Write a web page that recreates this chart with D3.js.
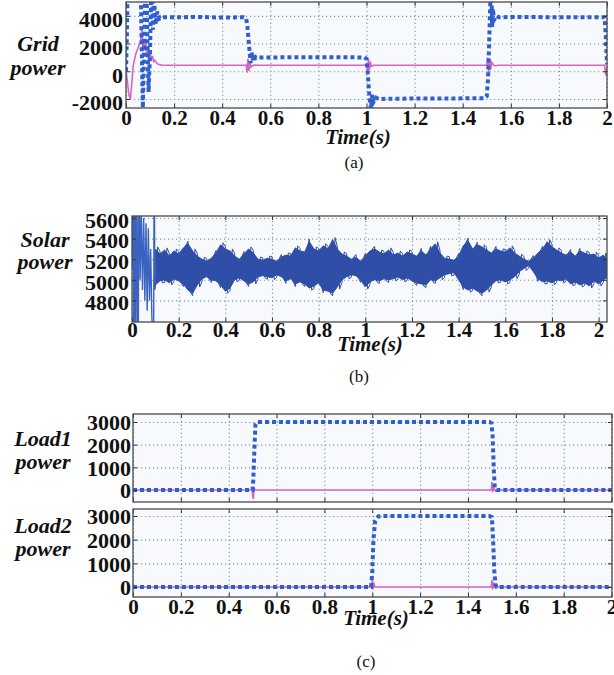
<!DOCTYPE html>
<html><head><meta charset="utf-8">
<script src="https://cdn.jsdelivr.net/npm/d3@7"></script>
<style>
html,body{margin:0;padding:0;background:#fff;}
svg{display:block;}
svg text{font-family:"Liberation Serif","Times New Roman",Times,serif !important;}
</style></head>
<body>
<svg id="chart" width="614" height="675"></svg>
<script>
// ---------- DATA ----------
const timeTicks = [0,0.2,0.4,0.6,0.8,1,1.2,1.4,1.6,1.8,2];
const timeTickLabels = ["0","0.2","0.4","0.6","0.8","1","1.2","1.4","1.6","1.8","2"];
const gridTicks = [-2000,0,2000,4000];
const solarTicks = [4800,5000,5200,5400,5600];
const loadTicks = [0,1000,2000,3000];

// Grid power: blue dotted series (time, W)
const gridBlueT = [0,0.003,0.006,0.009,0.03,0.06,0.064,0.07,0.074,0.079,0.084,0.088,0.094,0.1,0.104,0.108,0.112,0.118,0.124,0.13,0.14,0.15,0.2,0.3,0.4,0.49,0.5,0.505,0.512,0.518,0.522,0.527,0.532,0.54,0.55,0.6,0.8,0.99,1.0,1.006,1.012,1.018,1.024,1.03,1.04,1.05,1.1,1.3,1.49,1.5,1.505,1.51,1.515,1.518,1.522,1.526,1.53,1.54,1.55,1.6,1.8,1.99,1.995,2.0];
const gridBlueV = [0,2000,5000,8000,8000,8000,3000,-2650,500,5000,8000,3000,-1500,1500,5000,8000,3000,4800,3400,4300,3800,3900,3900,3920,3880,3900,3800,3200,1800,600,1400,800,1200,950,1000,1000,1020,1000,900,-300,-1800,-2700,-1700,-2200,-1900,-2000,-1980,-1960,-1950,-1800,-600,2000,5100,8000,3200,4500,3700,4000,3900,3920,3900,3900,2500,500];

// Grid power: pink series
const gridPinkT = [0,0.005,0.012,0.018,0.024,0.03,0.04,0.05,0.06,0.066,0.07,0.074,0.078,0.082,0.086,0.09,0.095,0.1,0.105,0.11,0.115,0.12,0.13,0.14,0.15,0.2,0.5,0.503,0.507,0.511,0.515,0.52,0.53,0.55,1.0,1.004,1.008,1.012,1.016,1.02,1.03,1.5,1.504,1.508,1.512,1.516,1.52,1.53,1.55,1.99,1.995,2.0];
const gridPinkV = [0,-600,-1700,-2000,-900,400,1200,1700,2100,3000,1600,2300,1500,2200,1100,1700,900,1400,800,1100,700,800,550,480,440,430,430,-100,900,0,700,300,450,430,430,-100,900,100,700,350,430,430,1000,-200,900,100,650,400,430,430,-300,200];

// Solar power: start-up transient and noise envelope (time, W)
const solarStartT = [0,0.004,0.008,0.012,0.016,0.02,0.026,0.03,0.035,0.04,0.045,0.05,0.055,0.06,0.065,0.07,0.075,0.08,0.085,0.088,0.092,0.095,0.098,0.1];
const solarStartV = [5100,6500,3800,6500,3800,6500,3800,6300,5000,5650,4900,5600,4800,5550,4700,5500,4800,5300,4650,4500,3800,6300,4900,5200];
const solarEnvT = [0.10,0.12,0.14,0.16,0.18,0.20,0.22,0.24,0.26,0.28,0.30,0.32,0.34,0.36,0.38,0.40,0.42,0.44,0.46,0.48,0.50,0.52,0.54,0.56,0.58,0.60,0.62,0.64,0.66,0.68,0.70,0.72,0.74,0.76,0.78,0.80,0.82,0.84,0.86,0.88,0.90,0.92,0.94,0.96,0.98,1.00,1.02,1.04,1.06,1.08,1.10,1.12,1.14,1.16,1.18,1.20,1.22,1.24,1.26,1.28,1.30,1.32,1.34,1.36,1.38,1.40,1.42,1.44,1.46,1.48,1.50,1.52,1.54,1.56,1.58,1.60,1.62,1.64,1.66,1.68,1.70,1.72,1.74,1.76,1.78,1.80,1.82,1.84,1.86,1.88,1.90,1.92,1.94,1.96,1.98,2.00,2.02,2.036];
const solarUpper = [5300,5250,5290,5230,5280,5250,5310,5350,5280,5230,5200,5180,5210,5260,5340,5300,5280,5230,5200,5250,5300,5260,5200,5190,5210,5200,5180,5220,5240,5230,5310,5280,5270,5370,5300,5280,5330,5300,5390,5300,5250,5230,5200,5220,5180,5230,5280,5300,5270,5250,5290,5240,5260,5230,5270,5250,5230,5280,5240,5300,5350,5260,5210,5200,5190,5230,5330,5380,5300,5340,5320,5290,5260,5300,5280,5270,5310,5260,5230,5200,5180,5210,5260,5300,5370,5320,5290,5260,5240,5270,5230,5280,5260,5240,5250,5210,5240,5200];
const solarLower = [4950,4990,5000,4970,5010,4990,4960,4900,4870,4950,5010,5030,5000,4990,4950,4890,4920,5000,5020,4990,4960,4980,5030,5040,5030,5020,5050,5030,4990,5010,4960,4980,4960,4920,4940,4970,4900,4890,4870,4930,5000,5030,5050,5040,5000,4930,4980,5000,4990,5010,5000,5010,5030,5000,5020,4990,4970,4960,4950,5000,4990,5020,5050,5060,5070,5000,4930,4900,4920,4890,4870,4900,4950,4990,5000,4980,5000,5030,5080,5110,5140,5080,5010,4980,4990,4970,5000,4990,5010,4960,4980,4950,4970,4940,4990,4960,5000,5020];

// Load powers: blue dotted and pink series
const load1BlueT = [0,0.5,0.503,0.508,0.512,0.52,1.49,1.498,1.503,1.508,1.512,1.52,2.0];
const load1BlueV = [0,0,500,2000,2900,3000,3000,2950,2400,900,100,0,0];
const load1PinkT = [0,0.498,0.5,0.503,0.506,0.51,1.498,1.5,1.503,1.506,1.51,2.0];
const load1PinkV = [0,0,-250,-400,100,0,0,350,-100,200,0,0];
const load2BlueT = [0,0.995,1.0,1.005,1.012,1.025,1.04,1.49,1.5,1.505,1.51,1.515,1.52,2.0];
const load2BlueV = [0,0,600,2000,2800,2980,3000,3000,2950,2000,700,100,0,0];
const load2PinkT = [0,0.998,1.0,1.003,1.006,1.01,1.498,1.5,1.503,1.506,1.51,2.0];
const load2PinkV = [0,0,300,-100,200,0,0,300,-100,200,0,0];

// ---------- DRAW ----------
const svg = d3.select("#chart");
const FONT = "Liberation Serif";
const BLUE = "#2f5fcf", PINK = "#d765c2", SOLAR = "#2f4ea8";

function zip(t, v){ return t.map((d,i)=>[d, v[i]]); }

function label(sel, x, y, s, opts){
  opts = opts || {};
  return sel.append("text").attr("x",x).attr("y",y).attr("text-anchor","middle")
    .attr("font-family",FONT).attr("font-weight",opts.bold===false?"normal":"bold")
    .attr("font-style",opts.italic?"italic":"normal").attr("font-size",opts.size||21)
    .attr("fill","#111").text(s);
}

function panel(cfg){
  const x = d3.scaleLinear().domain(cfg.xDom).range([cfg.left, cfg.right]);
  const y = d3.scaleLinear().domain(cfg.yDom).range([cfg.bottom, cfg.top]);
  const w = cfg.right - cfg.left, h = cfg.bottom - cfg.top;
  const g = svg.append("g");
  g.append("rect").attr("x",cfg.left).attr("y",cfg.top).attr("width",w).attr("height",h).attr("fill","#f8f9fd");
  const clipId = "clip"+cfg.id;
  svg.append("clipPath").attr("id",clipId).append("rect").attr("x",cfg.left).attr("y",cfg.top).attr("width",w).attr("height",h);

  const gx = g.append("g").attr("transform",`translate(0,${cfg.bottom})`)
    .call(d3.axisBottom(x).tickValues(timeTicks).tickSize(-h).tickFormat(""));
  const gy = g.append("g").attr("transform",`translate(${cfg.left},0)`)
    .call(d3.axisLeft(y).tickValues(cfg.yTicks).tickSize(-w).tickFormat(""));
  [gx,gy].forEach(a=>{
    a.select(".domain").remove();
    a.selectAll("line").attr("stroke","#6e9ea8").attr("stroke-width",1.1).attr("stroke-dasharray","1.2 2.8");
  });

  const plot = g.append("g").attr("clip-path",`url(#${clipId})`);
  if (cfg.draw) cfg.draw(plot, x, y);

  const tb = g.append("g").attr("transform",`translate(0,${cfg.bottom})`)
    .call(d3.axisBottom(x).tickValues(timeTicks).tickSize(-4).tickFormat(""));
  const tt = g.append("g").attr("transform",`translate(0,${cfg.top})`)
    .call(d3.axisTop(x).tickValues(timeTicks).tickSize(-4).tickFormat(""));
  const tl = g.append("g").attr("transform",`translate(${cfg.left},0)`)
    .call(d3.axisLeft(y).tickValues(cfg.yTicks).tickSize(-4).tickFormat(""));
  const tr = g.append("g").attr("transform",`translate(${cfg.right},0)`)
    .call(d3.axisRight(y).tickValues(cfg.yTicks).tickSize(-4).tickFormat(""));
  [tb,tt,tl,tr].forEach(a=>{ a.select(".domain").remove(); a.selectAll("line").attr("stroke","#333").attr("stroke-width",1); });

  g.append("rect").attr("x",cfg.left).attr("y",cfg.top).attr("width",w).attr("height",h)
    .attr("fill","none").attr("stroke","#4a4a4a").attr("stroke-width",1.3);

  const yl = g.append("g").attr("transform",`translate(${cfg.left},0)`)
    .call(d3.axisLeft(y).tickValues(cfg.yTicks).tickSize(0).tickPadding(cfg.yPad).tickFormat(d=>String(d)));
  yl.select(".domain").remove();
  yl.attr("font-family",FONT);
  yl.selectAll("text").attr("font-family",FONT).attr("font-weight","bold").attr("font-size",22)
    .attr("fill","#111").attr("dy",cfg.yDy);

  if (cfg.xLabels){
    const xl = g.append("g").attr("transform",`translate(0,${cfg.bottom})`)
      .call(d3.axisBottom(x).tickValues(timeTicks).tickSize(0).tickFormat((d,i)=>timeTickLabels[i]));
    xl.select(".domain").remove();
    xl.attr("font-family",FONT);
    xl.selectAll("text").attr("font-family",FONT).attr("font-weight","bold").attr("font-size",21)
      .attr("fill","#111").attr("y",cfg.xLabY).attr("dy",0);
  }
  cfg.ylab.forEach((s,i)=>{ label(g, cfg.ylabX, cfg.ylabY[i], s, {italic:true, size:22}); });
  return {x,y};
}

function drawBlue(plot, x, y, t, v){
  plot.append("path").datum(zip(t,v))
    .attr("d", d3.line().x(d=>x(d[0])).y(d=>y(d[1])))
    .attr("fill","none").attr("stroke",BLUE).attr("stroke-width",4).attr("stroke-dasharray","4 3");
}
function drawPink(plot, x, y, t, v){
  plot.append("path").datum(zip(t,v))
    .attr("d", d3.line().x(d=>x(d[0])).y(d=>y(d[1])))
    .attr("fill","none").attr("stroke",PINK).attr("stroke-width",1.6);
}

// (a) Grid power
panel({id:"a", left:126, right:607, top:2, bottom:108, xDom:[0,2], yDom:[-2650,5000],
  yTicks:gridTicks, yPad:3, yDy:"0.5em", xLabels:true, xLabY:17,
  ylab:["Grid","power"], ylabX:38, ylabY:[51,75],
  draw:(p,x,y)=>{ drawPink(p,x,y,gridPinkT,gridPinkV); drawBlue(p,x,y,gridBlueT,gridBlueV); }
});
label(svg, 358, 144, "Time(s)", {italic:true});
label(svg, 354, 168, "(a)", {bold:false, size:17});

// (b) Solar power
panel({id:"b", left:132, right:607, top:216, bottom:322, xDom:[0,2.036], yDom:[4590,5620],
  yTicks:solarTicks, yPad:3, yDy:"0.42em", xLabels:true, xLabY:15,
  ylab:["Solar","power"], ylabX:45, ylabY:[247,269],
  draw:(p,x,y)=>{
    const env = solarEnvT.map((t,i)=>({t, u:solarUpper[i], l:solarLower[i]}));
    p.append("path").datum(env)
      .attr("d", d3.area().x(d=>x(d.t)).y0(d=>y(d.l)).y1(d=>y(d.u)))
      .attr("fill",SOLAR).attr("stroke",SOLAR).attr("stroke-width",1);
    p.append("path").datum(env.flatMap((d,i)=>[[d.t, i%2?d.u+25:d.l-25],[d.t+0.01, i%2?d.l-20:d.u+20]]))
      .attr("d", d3.line().x(d=>x(d[0])).y(d=>y(d[1])))
      .attr("fill","none").attr("stroke",SOLAR).attr("stroke-width",1);
    p.append("path").datum(zip(solarStartT,solarStartV))
      .attr("d", d3.line().x(d=>x(d[0])).y(d=>y(d[1])))
      .attr("fill","none").attr("stroke","#3a62c0").attr("stroke-width",1.4);
  }
});
label(svg, 370, 351, "Time(s)", {italic:true});
label(svg, 359, 382, "(b)", {bold:false, size:17});

// (c) Load powers
panel({id:"c1", left:133, right:612, top:414, bottom:502, xDom:[0,2.002], yDom:[-530,3353],
  yTicks:loadTicks, yPad:2, yDy:"0.36em", xLabels:false,
  ylab:["Load1","power"], ylabX:43, ylabY:[446,469],
  draw:(p,x,y)=>{ drawPink(p,x,y,load1PinkT,load1PinkV); drawBlue(p,x,y,load1BlueT,load1BlueV); }
});
panel({id:"c2", left:133, right:612, top:509, bottom:597, xDom:[0,2.002], yDom:[-422,3296],
  yTicks:loadTicks, yPad:2, yDy:"0.36em", xLabels:true, xLabY:17,
  ylab:["Load2","power"], ylabX:43, ylabY:[533,556],
  draw:(p,x,y)=>{ drawPink(p,x,y,load2PinkT,load2PinkV); drawBlue(p,x,y,load2BlueT,load2BlueV); }
});
label(svg, 376, 625, "Time(s)", {italic:true});
label(svg, 366, 667, "(c)", {bold:false, size:17});
</script>
</body></html>
